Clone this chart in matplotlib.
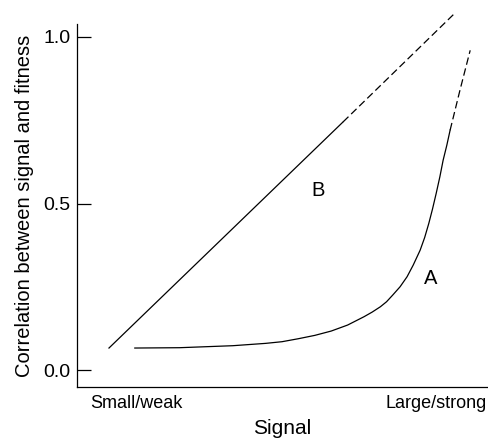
import matplotlib
matplotlib.use("Agg")
import matplotlib.pyplot as plt

plt.rcParams['font.family'] = ['Liberation Sans', 'DejaVu Sans']

# signal axis runs 0 (small/weak) .. 1 (large/strong), no numeric scale
x_ticks = [0.146, 0.876]
x_ticklabels = ["Small/weak", "Large/strong"]
y_ticks = [0.0, 0.5, 1.0]
y_ticklabels = ["0.0", "0.5", "1.0"]

# curve B: straight line, solid then dashed extrapolation
b_solid_x = [0.078, 0.649]
b_solid_y = [0.066, 0.745]
b_dash_x = [0.649, 0.922]
b_dash_y = [0.745, 1.072]

# curve A: flat, then steep rise, dashed at the top
a_solid_x = [0.141, 0.25, 0.38, 0.46, 0.50, 0.54, 0.58, 0.62, 0.66,
             0.70, 0.72, 0.74, 0.755, 0.77, 0.788, 0.805, 0.82, 0.837,
             0.848, 0.858, 0.867, 0.876, 0.885, 0.893, 0.902, 0.910]
a_solid_y = [0.066, 0.067, 0.073, 0.080, 0.085, 0.094, 0.104, 0.117, 0.135,
             0.160, 0.174, 0.190, 0.205, 0.225, 0.250, 0.280, 0.315, 0.360,
             0.398, 0.440, 0.483, 0.530, 0.580, 0.630, 0.675, 0.720]
a_dash_x = [0.910, 0.934, 0.959]
a_dash_y = [0.720, 0.840, 0.960]

labels = [("B", 0.588, 0.54), ("A", 0.863, 0.276)]

fig = plt.figure(figsize=(4.89, 4.38), dpi=100)
ax = fig.add_axes([77 / 489, 1 - 387 / 438, 410 / 489, (387 - 24) / 438])

ax.plot(b_solid_x, b_solid_y, color="black", lw=0.9, clip_on=False)
ax.plot(b_dash_x, b_dash_y, color="black", lw=0.9, ls=(0, (6, 3)), clip_on=False)
ax.plot(a_solid_x, a_solid_y, color="black", lw=0.9, clip_on=False)
ax.plot(a_dash_x, a_dash_y, color="black", lw=0.9, ls=(0, (6, 3)), clip_on=False)

for txt, tx, ty in labels:
    ax.text(tx, ty, txt, fontsize=14.5, ha="center", va="center")

ax.set_xlim(0, 1)
ax.set_ylim(-0.051, 1.039)
ax.set_xticks(x_ticks)
ax.set_xticklabels(x_ticklabels)
ax.set_yticks(y_ticks)
ax.set_yticklabels(y_ticklabels)
ax.tick_params(axis="x", length=0, pad=6, labelsize=13)
ax.tick_params(axis="y", direction="in", length=10, width=0.9, pad=4.5, labelsize=14)

for s in ("top", "right"):
    ax.spines[s].set_visible(False)
for s in ("left", "bottom"):
    ax.spines[s].set_linewidth(0.9)

ax.set_xlabel("Signal", fontsize=15, labelpad=5)
ax.set_ylabel("Correlation between signal and fitness", fontsize=14.5, labelpad=7)

fig.savefig("out.png", dpi=100)
